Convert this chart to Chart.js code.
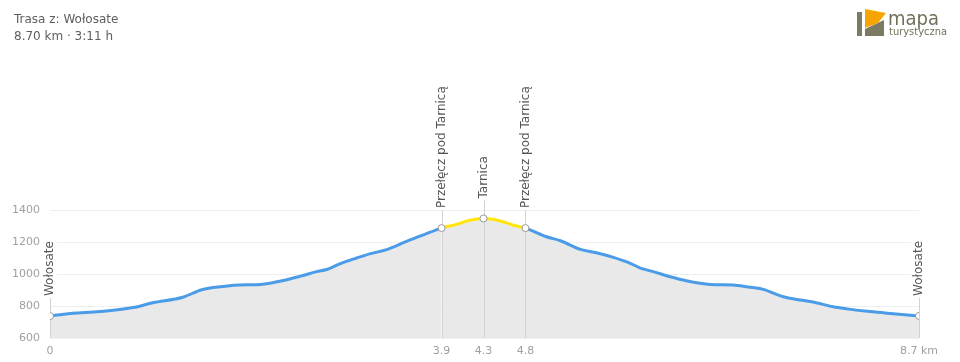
<!DOCTYPE html>
<html><head><meta charset="utf-8">
<script src="https://cdn.jsdelivr.net/npm/chart.js@4"></script>
<style>
html,body{margin:0;padding:0;background:#fff;}
#wrap{position:relative;width:960px;height:362px;overflow:hidden;}
#c{position:absolute;left:0;top:0;}
#title{position:absolute;left:14px;top:11px;font-family:"DejaVu Sans",sans-serif;font-size:12px;color:#5e5e5e;line-height:17px;}
#logo{position:absolute;left:850px;top:4px;}
</style></head>
<body><div id="wrap">
<canvas id="c" width="960" height="362"></canvas>
<div id="title">Trasa z: Wołosate<br>8.70 km · 3:11 h</div>
<svg id="logo" width="110" height="40" viewBox="850 4 110 40">
<rect x="857" y="12" width="5" height="24" fill="#7b7a62"/>
<polygon points="865,29 884,20 884,36 865,36" fill="#7b7a62"/>
<polygon points="865,9 886,13 878,23 865,28" fill="#f6a500"/>
<text x="888" y="24.5" font-family="DejaVu Sans, sans-serif" font-size="20" fill="#727059" textLength="51" lengthAdjust="spacingAndGlyphs">mapa</text>
<text x="889" y="35" font-family="DejaVu Sans, sans-serif" font-size="10" fill="#727059" textLength="58" lengthAdjust="spacingAndGlyphs">turystyczna</text>
</svg>
</div>
<script>
// Profile data (km, m a.s.l.)
const distances = [0.00,0.10,0.23,0.50,0.83,1.03,1.33,1.52,1.73,1.90,2.07,2.30,2.50,2.67,2.77,2.90,3.07,3.20,3.37,3.57,3.74,3.92,4.07,4.20,4.34,4.50,4.64,4.76,4.97,5.11,5.31,5.47,5.64,5.81,5.91,6.04,6.21,6.37,6.61,6.84,6.97,7.14,7.34,7.51,7.64,7.84,7.98,8.21,8.44,8.70];
const elevations = [737,746,754,765,790,820,855,902,922,932,933,955,985,1015,1028,1063,1100,1126,1152,1204,1245,1287,1310,1336,1347,1333,1305,1287,1233,1208,1154,1133,1104,1067,1037,1015,983,958,935,931,921,904,858,838,825,795,782,765,752,738];
// Waypoints
const wpNames = ["Wołosate","Przełęcz pod Tarnicą","Tarnica","Przełęcz pod Tarnicą","Wołosate"];
const wpDist = [0.00,3.92,4.34,4.76,8.70];
const wpElev = [737,1287,1347,1287,738];
const xTickLabels = ["0","3.9","4.3","4.8","8.7 km"];
const yTicks = [600,800,1000,1200,1400];
// highlighted section
const hlStart = 3.92, hlEnd = 4.76;

const BLUE = '#4a9be8', YELLOW = '#ffe50a';

const wpPlugin = {
  id:'wp',
  afterDatasetDraw(chart, args){
    if(args.index!==0) return;
    const ctx=chart.ctx, xs=chart.scales.x, ys=chart.scales.y, ca=chart.chartArea;
    ctx.save();
    ctx.strokeStyle='#d2d2d2'; ctx.lineWidth=1;
    wpDist.forEach((d,i)=>{
      const px=Math.round(xs.getPixelForValue(d))+0.5, py=ys.getPixelForValue(wpElev[i]);
      ctx.beginPath(); ctx.moveTo(px,py-19); ctx.lineTo(px,ca.bottom); ctx.stroke();
    });
    ctx.restore();
  },
  afterDraw(chart){
    const ctx=chart.ctx, xs=chart.scales.x, ys=chart.scales.y;
    ctx.save();
    ctx.font='12px "DejaVu Sans", sans-serif';
    wpDist.forEach((d,i)=>{
      const px=xs.getPixelForValue(d), py=ys.getPixelForValue(wpElev[i]);
      const w=ctx.measureText(wpNames[i]).width;
      ctx.save();
      ctx.translate(px,py-20);
      ctx.rotate(-Math.PI/2);
      ctx.fillStyle='#fff';
      ctx.fillRect(-2,-8,w+4,15);
      ctx.fillStyle='#555';
      ctx.textAlign='left'; ctx.textBaseline='middle';
      ctx.fillText(wpNames[i],0,0);
      ctx.restore();
    });
    ctx.restore();
  }
};

const profile = distances.map((d,i)=>({x:d,y:elevations[i]}));
const wps = wpDist.map((d,i)=>({x:d,y:wpElev[i]}));

new Chart(document.getElementById('c'),{
  type:'line',
  data:{datasets:[
    {data:profile, borderColor:BLUE, borderWidth:3, pointRadius:0, fill:'start',
     backgroundColor:'#e9e9e9', cubicInterpolationMode:'monotone', order:1,
     segment:{borderColor:c=>(c.p0.parsed.x>=hlStart-1e-6 && c.p1.parsed.x<=hlEnd+1e-6)?YELLOW:BLUE}},
    {data:wps, showLine:false, pointRadius:3.5, pointBackgroundColor:'#fff', pointBorderColor:'#999',
     pointBorderWidth:1, order:0}
  ]},
  options:{
    responsive:false, animation:false, events:[],
    layout:{padding:{top:210,right:41,left:0,bottom:0}},
    plugins:{legend:{display:false},tooltip:{enabled:false}},
    scales:{
      x:{type:'linear',min:0,max:8.7,
        grid:{display:false,drawTicks:false}, border:{display:false},
        afterBuildTicks(s){ s.ticks = wpDist.map(v=>({value:v})); },
        afterFit(s){ s.height=24; },
        ticks:{autoSkip:false,maxRotation:0,padding:7,color:'#a0a0a0',font:{family:'DejaVu Sans',size:11},
          callback:(v,i)=>xTickLabels[i]}
      },
      y:{min:600,max:1400,
        grid:{color:'#eeeeee',drawTicks:false,lineWidth:1}, border:{display:false},
        afterBuildTicks(s){ s.ticks = yTicks.map(v=>({value:v})); },
        afterFit(s){ s.width=50; },
        ticks:{padding:10,color:'#a0a0a0',font:{family:'DejaVu Sans',size:11},
          callback:(v)=>String(v)}
      }
    }
  },
  plugins:[wpPlugin]
});
</script>
</body></html>
